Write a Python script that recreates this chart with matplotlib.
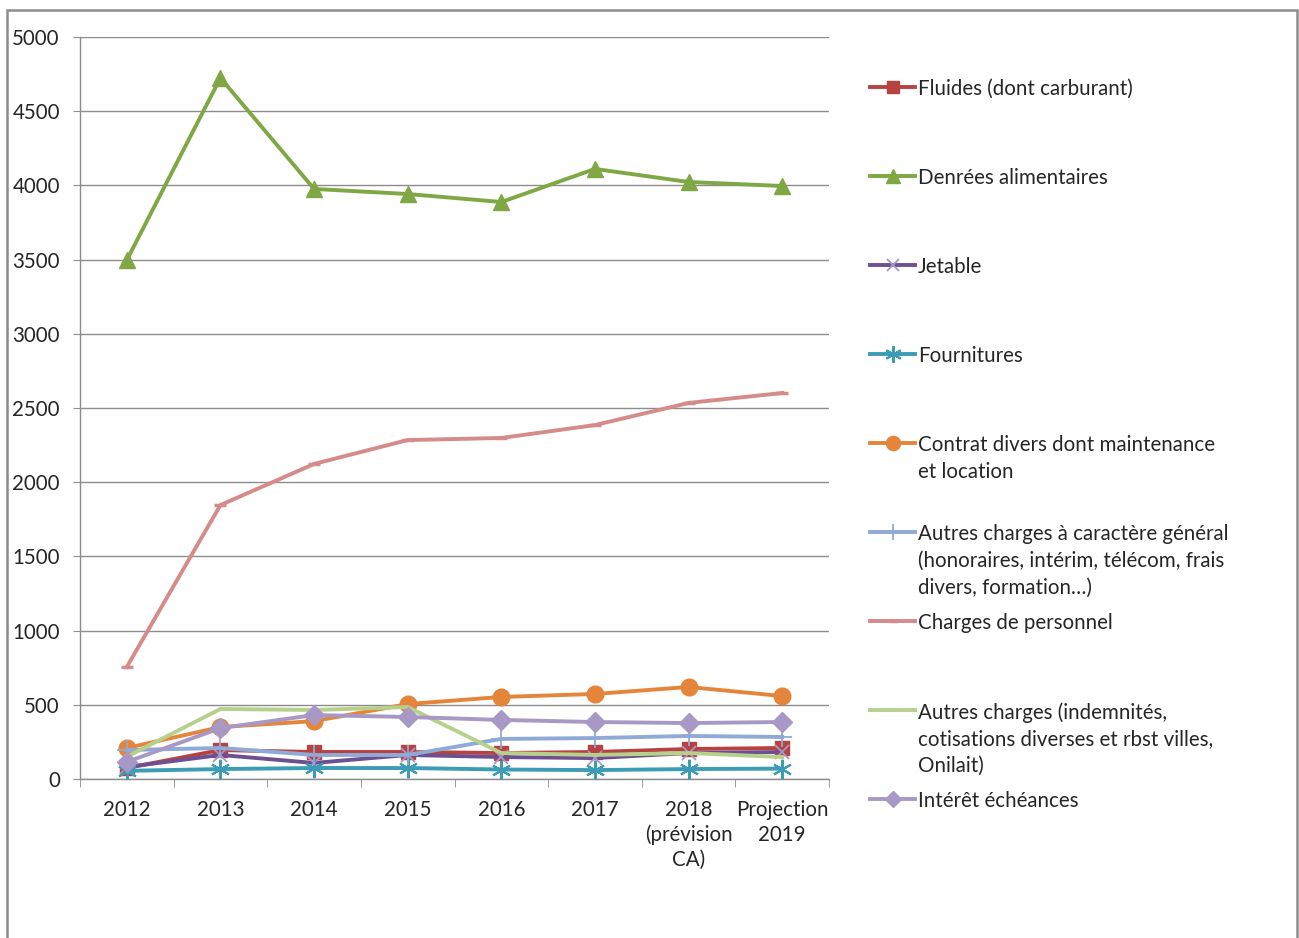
import matplotlib
matplotlib.use("Agg")
import matplotlib.pyplot as plt
from matplotlib.lines import Line2D
from matplotlib.patches import Rectangle

plt.rcParams['font.family'] = ['Lato', 'DejaVu Sans']

categories = ["2012", "2013", "2014", "2015", "2016", "2017", "2018\n(prévision\nCA)", "Projection\n2019"]

fluides = [74, 195, 182, 182, 175, 182, 202, 209]
denrees = [3497, 4724, 3976, 3942, 3888, 4111, 4023, 3996]
jetable = [81, 162, 108, 162, 148, 141, 175, 182]
fournitures = [55, 67, 74, 74, 64, 60, 67, 70]
contrat = [209, 350, 390, 505, 553, 573, 620, 559]
autres_gen = [195, 209, 162, 162, 270, 276, 290, 283]
personnel = [755, 1846, 2123, 2284, 2298, 2385, 2534, 2601]
autres_charges = [150, 472, 465, 485, 175, 162, 175, 148]
interet = [115, 343, 431, 418, 398, 384, 377, 384]

labels = [
    "Fluides (dont carburant)",
    "Denrées alimentaires",
    "Jetable",
    "Fournitures",
    "Contrat divers dont maintenance\net location",
    "Autres charges à caractère général\n(honoraires, intérim, télécom, frais\ndivers, formation…)",
    "Charges de personnel",
    "Autres charges (indemnités,\ncotisations diverses et rbst villes,\nOnilait)",
    "Intérêt échéances",
]

series = [fluides, denrees, jetable, fournitures, contrat, autres_gen, personnel, autres_charges, interet]

styles = [
    dict(color="#B8423F", marker="s", ms=10, mfc="#B8423F", mec="#B8423F"),
    dict(color="#7FA845", marker="^", ms=12, mfc="#7FA845", mec="#7FA845"),
    dict(color="#6E4F91", marker="x", ms=10, mfc="#A996C8", mec="#A996C8", mew=1.3),
    dict(color="#3C9CB5", marker=(6, 2, 0), ms=14, mfc="#3C9CB5", mec="#3C9CB5", mew=1.5),
    dict(color="#E5853A", marker="o", ms=12, mfc="#E5853A", mec="#E5853A"),
    dict(color="#8FAAD6", marker="+", ms=14, mfc="#8FAAD6", mec="#8FAAD6", mew=1.3),
    dict(color="#D48B89", marker="_", ms=9, mfc="#D48B89", mec="#D48B89", mew=2.5),
    dict(color="#B7D18C", marker=None, ms=0),
    dict(color="#A898C6", marker="D", ms=10, mfc="#A898C6", mec="#A898C6"),
]

FS = 14.8
TXT = "#262626"

W, H = 1299, 938
fig = plt.figure(figsize=(W / 100, H / 100), dpi=100)
ax = fig.add_axes([80 / W, 1 - 779 / H, (829 - 80) / W, (779 - 37) / H])

x = list(range(len(categories)))
order = [6, 1, 7, 4, 8, 5, 0, 2, 3]
for i in order:
    st = dict(styles[i])
    ax.plot(x, series[i], lw=2.8, zorder=3 + i, **st)

ax.set_xlim(-0.5, len(categories) - 0.5)
ax.set_ylim(0, 5000)
ax.set_yticks(range(0, 5001, 500))
ax.grid(axis='y', color="#8C8C8C", lw=1)
ax.set_axisbelow(True)
for s in ['top', 'right']:
    ax.spines[s].set_visible(False)
for s in ['left', 'bottom']:
    ax.spines[s].set_color("#8C8C8C")
    ax.spines[s].set_linewidth(1)

ax.set_xticks(x)
ax.set_xticklabels(categories, fontsize=FS, color=TXT, linespacing=1.3, va='top')
ax.set_xticks([v - 0.5 for v in range(len(categories) + 1)], minor=True)
ax.tick_params(axis='x', which='major', length=0, pad=15)
ax.tick_params(axis='x', which='minor', length=6, color="#8C8C8C", direction='out')
ax.tick_params(axis='y', length=5, color="#8C8C8C", labelsize=FS, labelcolor=TXT, pad=9.5)

# Legend drawn manually (Excel-like layout)
tr = fig.transFigure
y0 = 87
step = 89
for k in range(len(labels)):
    yp = y0 + step * k
    yf = 1 - yp / H
    st = styles[k]
    fig.add_artist(Line2D([870 / W, 915 / W], [yf, yf], transform=tr, color=st['color'], lw=2.8))
    if st.get('marker'):
        fig.add_artist(Line2D([893 / W], [yf], transform=tr, marker=st['marker'],
                              ms=st['ms'] * 0.85, mfc=st.get('mfc'), mec=st.get('mec'),
                              mew=st.get('mew', 1), linestyle='none'))
    fig.text(918 / W, 1 - (yp - 8) / H, labels[k], transform=tr, fontsize=FS, color=TXT,
             va='top', ha='left', linespacing=1.42)

# Outer border
fig.add_artist(Rectangle((7 / W, -0.02), (1297 - 7) / W, 1 - 10 / H + 0.02, transform=tr,
                         fill=False, edgecolor="#8C8C8C", lw=1.8))

fig.savefig("out.png", dpi=100)
